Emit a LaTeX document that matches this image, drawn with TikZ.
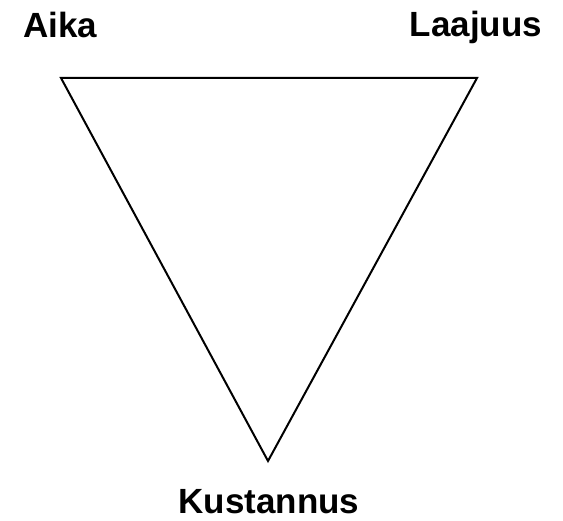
\documentclass[tikz,border=0pt]{standalone}
\usepackage{fontspec}
\setmainfont{Liberation Sans}
\begin{document}
\begin{tikzpicture}[x=1pt,y=-1pt,
  corner/.style={font=\bfseries\fontsize{35}{40}\selectfont, anchor=base, inner sep=0pt}]

\useasboundingbox (0,0) rectangle (563,521);

% vertices
\coordinate (tl) at (61,78);
\coordinate (tr) at (477,78);
\coordinate (bt) at (268,461);

% triangle
\draw[line width=2pt, line join=miter] (tl) -- (tr) -- (bt) -- cycle;

% labels
\node[corner] (aika) at (60,38) {Aika};
\node[corner] (laajuus) at (476,37) {Laajuus};
\node[corner] (kustannus) at (269,514) {Kustannus};

\end{tikzpicture}
\end{document}
